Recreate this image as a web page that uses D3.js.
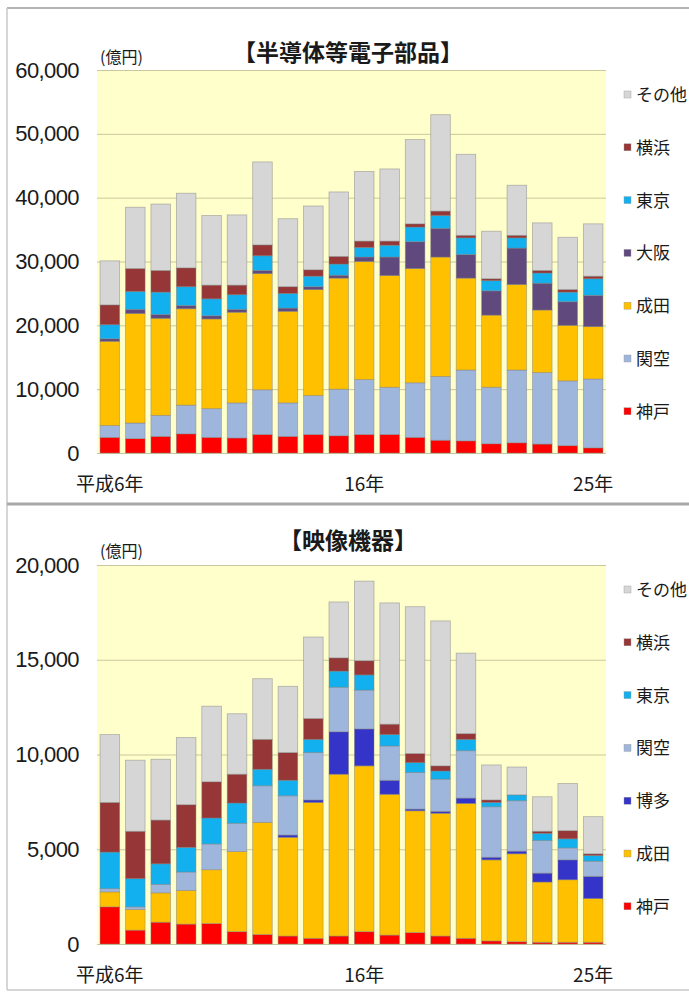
<!DOCTYPE html>
<html>
<head>
<meta charset="utf-8">
<script src="https://cdn.jsdelivr.net/npm/d3@7"></script>
<style>
  body { margin: 0; background: #fff; }
  svg { display: block; }
  text { font-family: "Noto Sans CJK JP", sans-serif; fill: #1a1a1a; }
  .num { font-family: "Liberation Sans", Arial, sans-serif; }
</style>
</head>
<body>
<svg id="chart" width="689" height="994"></svg>
<script>
// years shown on the category axis (平成6年 .. 25年)
const years = ['平成6年', '7年', '8年', '9年', '10年', '11年', '12年', '13年', '14年', '15年',
  '16年', '17年', '18年', '19年', '20年', '21年', '22年', '23年', '24年', '25年']
const shownYears = ['平成6年', '16年', '25年']

// 半導体等電子部品 (億円), bottom to top of each bar
const semiKeys = ['神戸', '関空', '成田', '大阪', '東京', '横浜', 'その他']
const semiKobe = [2450, 2250, 2600, 3000, 2450, 2350, 2900, 2600, 2900, 2700, 2900, 2900, 2450, 2000, 1900, 1450, 1600, 1400, 1150, 800]
const semiKanku = [1850, 2450, 3300, 4500, 4500, 5500, 7000, 5250, 6100, 7300, 8600, 7400, 8550, 10000, 11100, 8850, 11400, 11200, 10150, 10800]
const semiNarita = [13200, 17150, 15200, 15100, 14050, 14200, 18200, 14350, 16600, 17400, 18500, 17500, 17900, 18700, 14400, 11300, 13400, 9800, 8700, 8200]
const semiOsaka = [400, 650, 600, 500, 500, 450, 500, 500, 450, 450, 700, 2900, 4200, 4500, 3700, 3800, 5700, 4200, 3700, 4900]
const semiTokyo = [2200, 2800, 3500, 2950, 2650, 2300, 2300, 2300, 1650, 1750, 1500, 1850, 2300, 2000, 2600, 1600, 1600, 1600, 1500, 2600]
const semiYokohama = [3100, 3600, 3400, 2950, 2150, 1500, 1700, 1050, 1000, 1200, 1000, 650, 500, 700, 400, 300, 400, 400, 400, 400]
const semiOther = [6900, 9600, 10400, 11700, 10900, 11000, 13000, 10650, 10000, 10100, 10900, 11300, 13200, 15100, 12700, 7450, 7850, 7450, 8200, 8200]
const semiTicks = [0, 10000, 20000, 30000, 40000, 50000, 60000]

// 映像機器 (億円)
const videoKeys = ['神戸', '成田', '博多', '関空', '東京', '横浜', 'その他']
const videoKobe = [1960, 730, 1150, 1050, 1080, 650, 500, 420, 300, 420, 650, 470, 600, 420, 300, 160, 120, 90, 90, 90]
const videoNarita = [790, 1090, 1550, 1780, 2840, 4230, 5920, 5210, 7170, 8540, 8750, 7430, 6430, 6480, 7120, 4280, 4640, 3180, 3300, 2310]
const videoHakata = [0, 0, 0, 0, 0, 0, 0, 120, 130, 2240, 1950, 740, 90, 100, 280, 140, 140, 470, 1050, 1170]
const videoKanku = [170, 140, 450, 970, 1360, 1490, 1930, 2070, 2500, 2350, 2050, 1810, 1930, 1700, 2500, 2660, 2660, 1720, 630, 800]
const videoTokyo = [1930, 1490, 1080, 1300, 1370, 1070, 870, 820, 700, 850, 800, 600, 520, 430, 600, 230, 310, 380, 480, 300]
const videoYokohama = [2620, 2500, 2310, 2250, 1910, 1520, 1580, 1460, 1100, 700, 750, 550, 480, 270, 300, 130, 0, 110, 430, 90]
const videoOther = [3580, 3750, 3210, 3550, 3990, 3190, 3200, 3500, 4300, 2950, 4200, 6400, 7750, 7650, 4250, 1850, 1470, 1820, 2490, 1960]
const videoTicks = [0, 5000, 10000, 15000, 20000]

const portColors = {
  '神戸': '#ff0000',
  '関空': '#9fb6dc',
  '成田': '#ffc000',
  '大阪': '#604a7d',
  '博多': '#3434c8',
  '東京': '#12b0ee',
  '横浜': '#963636',
  'その他': '#d6d6d6'
}

const svg = d3.select('#chart')

// panel frames
svg.append('line').attr('x1', 7).attr('x2', 689).attr('y1', 8).attr('y2', 8)
  .attr('stroke', '#b4b4b4').attr('stroke-width', 2)
svg.append('line').attr('x1', 7).attr('x2', 7).attr('y1', 8).attr('y2', 990)
  .attr('stroke', '#c8c8c8').attr('stroke-width', 1.5)
svg.append('line').attr('x1', 7).attr('x2', 689).attr('y1', 504).attr('y2', 504)
  .attr('stroke', '#a8a8a8').attr('stroke-width', 3)
svg.append('line').attr('x1', 7).attr('x2', 689).attr('y1', 990).attr('y2', 990)
  .attr('stroke', '#c8c8c8').attr('stroke-width', 1.5)

drawChart({
  title: '【半導体等電子部品】',
  keys: semiKeys,
  values: [semiKobe, semiKanku, semiNarita, semiOsaka, semiTokyo, semiYokohama, semiOther],
  ticks: semiTicks,
  top: 70, bottom: 453,
  titleY: 61, unitY: 63,
  legendTop: 95
})

drawChart({
  title: '【映像機器】',
  keys: videoKeys,
  values: [videoKobe, videoNarita, videoHakata, videoKanku, videoTokyo, videoYokohama, videoOther],
  ticks: videoTicks,
  top: 565, bottom: 944,
  titleY: 549, unitY: 557,
  legendTop: 590
})

function drawChart(cfg){
  const left = 97, right = 606

  const rows = years.map((yr, i) => {
    const row = {year: yr}
    cfg.keys.forEach((k, j) => { row[k] = cfg.values[j][i] })
    return row
  })

  const x = d3.scaleBand()
    .domain(years)
    .range([left, right])
    .paddingInner(0.23)
    .paddingOuter(0.12)

  const y = d3.scaleLinear()
    .domain([0, d3.max(cfg.ticks)])
    .range([cfg.bottom, cfg.top])

  const g = svg.append('g')

  g.append('rect')
    .attr('x', left)
    .attr('y', cfg.top)
    .attr('width', right - left)
    .attr('height', cfg.bottom - cfg.top)
    .attr('fill', '#ffffcc')

  // grid lines
  g.append('g')
    .attr('transform', `translate(${left},0)`)
    .call(d3.axisLeft(y).tickValues(cfg.ticks).tickSize(-(right - left)).tickFormat(''))
    .call(a => a.select('.domain').remove())
    .call(a => a.selectAll('line').attr('stroke', '#cbc79c').attr('stroke-width', 1))

  // y labels
  g.append('g')
    .attr('transform', `translate(79,0)`)
    .call(d3.axisLeft(y).tickValues(cfg.ticks).tickSize(0).tickPadding(0).tickFormat(d3.format(',')))
    .call(a => a.select('.domain').remove())
    .call(a => a.selectAll('text')
      .attr('class', 'num')
      .attr('font-size', 22)
      .attr('letter-spacing', -0.6)
      .attr('fill', '#1a1a1a'))

  const stacked = d3.stack().keys(cfg.keys)(rows)

  g.selectAll('.layer')
    .data(stacked)
    .enter().append('g')
    .attr('class', 'layer')
    .attr('fill', d => portColors[d.key])
    .selectAll('rect')
    .data(d => d)
    .enter().append('rect')
    .attr('x', d => x(d.data.year))
    .attr('width', x.bandwidth())
    .attr('y', d => y(d[1]))
    .attr('height', d => Math.max(0, y(d[0]) - y(d[1])))
    .attr('stroke', '#7f7f7f')
    .attr('stroke-opacity', 0.55)
    .attr('stroke-width', 0.8)

  // x labels
  g.append('g')
    .selectAll('text')
    .data(shownYears)
    .enter().append('text')
    .attr('x', d => x(d) + x.bandwidth() / 2)
    .attr('y', cfg.bottom + 38)
    .attr('text-anchor', 'middle')
    .attr('font-size', 19)
    .text(d => d)

  // title and unit
  g.append('text')
    .attr('x', 348)
    .attr('y', cfg.titleY)
    .attr('text-anchor', 'middle')
    .attr('font-size', 23)
    .attr('font-weight', 'bold')
    .text(cfg.title)

  g.append('text')
    .attr('x', 100)
    .attr('y', cfg.unitY)
    .attr('font-size', 16)
    .text('(億円)')

  // legend, top item first
  const legend = g.append('g')
    .selectAll('g')
    .data(cfg.keys.slice().reverse())
    .enter().append('g')
    .attr('transform', (d, i) => `translate(624,${cfg.legendTop + i * 52.8})`)

  legend.append('rect')
    .attr('x', 0)
    .attr('y', -4)
    .attr('width', 7)
    .attr('height', 7)
    .attr('fill', d => portColors[d])
    .attr('stroke', '#999')
    .attr('stroke-width', 0.4)

  legend.append('text')
    .attr('x', 12)
    .attr('y', 6)
    .attr('font-size', 17)
    .text(d => d)
}
</script>
</body>
</html>
